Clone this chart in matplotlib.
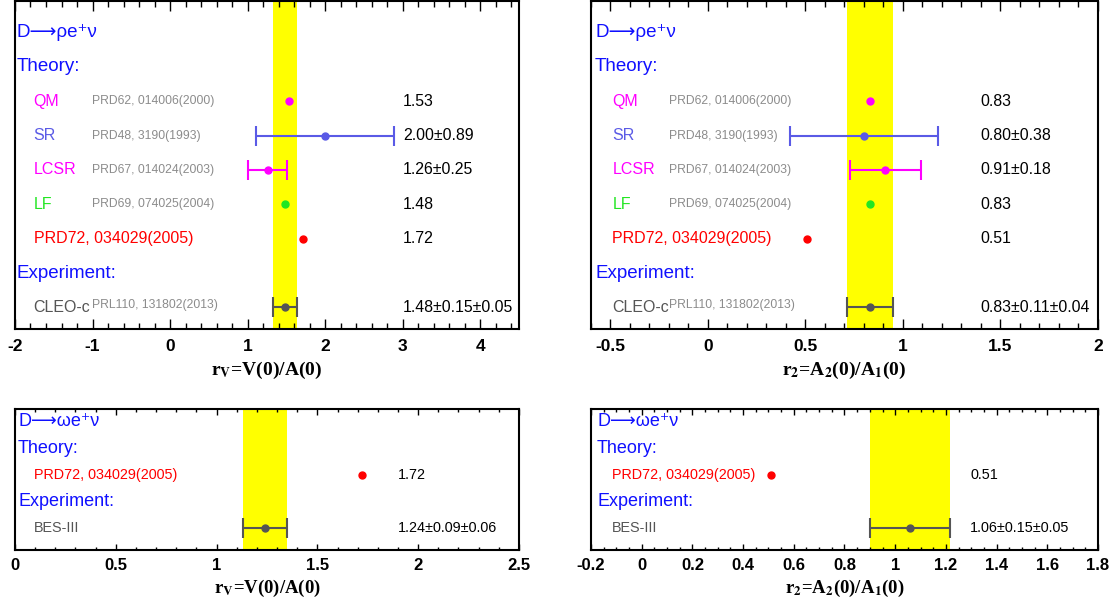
import numpy as np
import matplotlib.pyplot as plt
from matplotlib.ticker import MultipleLocator, FuncFormatter

plt.rcParams['font.family'] = ['Liberation Sans', 'DejaVu Sans']
plt.rcParams['mathtext.fontset'] = 'stix'

# D -> rho e+ nu : theory predictions
rho_models = ["QM", "SR", "LCSR", "LF", "PRD72, 034029(2005)"]
rho_refs = ["PRD62, 014006(2000)", "PRD48, 3190(1993)", "PRD67, 014024(2003)",
            "PRD69, 074025(2004)", ""]
rho_colors = ["#ff00ff", "#5a5ae6", "#ff00ff", "#22e622", "#ff0000"]
rv_rho = [1.53, 2.00, 1.26, 1.48, 1.72]
rv_rho_err = [None, 0.89, 0.25, None, None]
r2_rho = [0.83, 0.80, 0.91, 0.83, 0.51]
r2_rho_err = [None, 0.38, 0.18, None, None]

# D -> rho e+ nu : CLEO-c measurement (value, stat, syst)
cleo_ref = "PRL110, 131802(2013)"
cleo_rv = [1.48, 0.15, 0.05]
cleo_r2 = [0.83, 0.11, 0.04]

# D -> omega e+ nu
omega_models = ["PRD72, 034029(2005)"]
omega_colors = ["#ff0000"]
rv_omega = [1.72]
r2_omega = [0.51]
bes_rv = [1.24, 0.09, 0.06]
bes_r2 = [1.06, 0.15, 0.05]

BLUE = "#1010ff"
GREY = "#555555"
REFGREY = "#8c8c8c"


def fmt_tick(v, pos):
    if abs(v) < 1e-9:
        v = 0.0
    return f"{round(v, 6):g}"


def style_axis(ax, xlim, major, minor, ticklen, fs, pad):
    ax.set_xlim(*xlim)
    ax.xaxis.set_major_locator(MultipleLocator(major))
    ax.xaxis.set_minor_locator(MultipleLocator(minor))
    ax.xaxis.set_major_formatter(FuncFormatter(fmt_tick))
    ax.tick_params(axis='x', which='both', direction='in', top=True, bottom=True,
                   labelsize=fs, pad=pad, width=1.0)
    ax.tick_params(axis='x', which='major', length=ticklen[0])
    ax.tick_params(axis='x', which='minor', length=ticklen[1])
    for lab in ax.get_xticklabels():
        lab.set_fontweight('bold')
    ax.set_yticks([])
    for s in ax.spines.values():
        s.set_linewidth(1.5)


def point(ax, x, y, err, color, cap):
    if err is None:
        ax.plot(x, y, 'o', color=color, ms=5, zorder=3)
    else:
        ax.errorbar(x, y, xerr=err, fmt='o', color=color, ms=5, capsize=cap,
                    elinewidth=1.5, capthick=1.5, zorder=3)


def rho_panel(ax, vals, errs, meas, xlim, major, minor, xpos, label):
    tr = ax.get_yaxis_transform()
    x_head, x_mod, x_ref, x_val = xpos
    mean, stat, syst = meas
    tot = np.hypot(stat, syst)
    ax.axvspan(mean - tot, mean + tot, color='#ffff00', lw=0, zorder=0)
    ax.text(x_head, 1, "D⟶ρe⁺ν", transform=tr, color=BLUE, fontsize=13.5, va='center')
    ax.text(x_head, 2, "Theory:", transform=tr, color=BLUE, fontsize=13.5, va='center')
    for i, (m, r, c, v, e) in enumerate(zip(rho_models, rho_refs, rho_colors, vals, errs)):
        y = 3 + i
        ax.text(x_mod, y, m, transform=tr, color=c, fontsize=11.5, va='center')
        if r:
            ax.text(x_ref, y, r, transform=tr, color=REFGREY, fontsize=8.7, va='center')
        point(ax, v, y, e, c, 7)
        txt = f"{v:.2f}" if e is None else f"{v:.2f}±{e:.2f}"
        ax.text(x_val, y, txt, transform=tr, color='black', fontsize=11.4, va='center')
    ax.text(x_head, 8, "Experiment:", transform=tr, color=BLUE, fontsize=13.5, va='center')
    ax.text(x_mod, 9, "CLEO-c", transform=tr, color=GREY, fontsize=11.5, va='center')
    ax.text(x_ref, 8.93, cleo_ref, transform=tr, color=REFGREY, fontsize=8.7, va='center')
    point(ax, mean, 9, tot, GREY, 7)
    ax.text(x_val, 9, f"{mean:.2f}±{stat:.2f}±{syst:.2f}", transform=tr,
            color='black', fontsize=11.4, va='center')
    ax.set_ylim(9.63, 0.07)
    style_axis(ax, xlim, major, minor, (7, 4), 12.5, 7.5)
    ax.set_xlabel(label, fontsize=14, fontfamily='Liberation Serif', fontweight='bold')
    ax.xaxis.set_label_coords(0.5, -0.095)


def omega_panel(ax, vals, meas, xlim, major, minor, xpos, label):
    tr = ax.get_yaxis_transform()
    x_head, x_mod, x_val = xpos
    mean, stat, syst = meas
    tot = np.hypot(stat, syst)
    ax.axvspan(mean - tot, mean + tot, color='#ffff00', lw=0, zorder=0)
    ax.text(x_head, 1, "D⟶ωe⁺ν", transform=tr, color=BLUE, fontsize=13, va='center')
    ax.text(x_head, 2, "Theory:", transform=tr, color=BLUE, fontsize=13, va='center')
    for i, (m, c, v) in enumerate(zip(omega_models, omega_colors, vals)):
        y = 3 + i
        ax.text(x_mod, y, m, transform=tr, color=c, fontsize=10.4, va='center')
        point(ax, v, y, None, c, 7)
        ax.text(x_val, y, f"{v:.2f}", transform=tr, color='black', fontsize=10.4, va='center')
    ax.text(x_head, 4, "Experiment:", transform=tr, color=BLUE, fontsize=13, va='center')
    ax.text(x_mod, 5, "BES-III", transform=tr, color=GREY, fontsize=10.4, va='center')
    point(ax, mean, 5, tot, GREY, 7)
    ax.text(x_val, 5, f"{mean:.2f}±{stat:.2f}±{syst:.2f}", transform=tr,
            color='black', fontsize=10.4, va='center')
    ax.set_ylim(5.83, 0.51)
    style_axis(ax, xlim, major, minor, (4.5, 2.5), 12, 6)
    ax.set_xlabel(label, fontsize=13.5, fontfamily='Liberation Serif', fontweight='bold')
    ax.xaxis.set_label_coords(0.5, -0.2)


fig = plt.figure(figsize=(11.18, 6.08), dpi=100)
ax_tl = fig.add_axes([0.0134, 0.4589, 0.4508, 0.5400])
ax_tr = fig.add_axes([0.5286, 0.4589, 0.4535, 0.5400])
ax_bl = fig.add_axes([0.0134, 0.0954, 0.4508, 0.2319])
ax_br = fig.add_axes([0.5286, 0.0954, 0.4535, 0.2319])

lab_rv = r'r$_{\mathbf{V}}$=V(0)/A(0)'
lab_r2 = r'r$_{\mathbf{2}}$=A$_{\mathbf{2}}$(0)/A$_{\mathbf{1}}$(0)'

rho_panel(ax_tl, rv_rho, rv_rho_err, cleo_rv, (-2, 4.5), 1, 0.2,
          (0.004, 0.037, 0.152, 0.77), lab_rv)
rho_panel(ax_tr, r2_rho, r2_rho_err, cleo_r2, (-0.6, 2.0), 0.5, 0.1,
          (0.008, 0.042, 0.154, 0.769), lab_r2)
omega_panel(ax_bl, rv_omega, bes_rv, (0, 2.5), 0.5, 0.1,
            (0.006, 0.037, 0.76), lab_rv)
omega_panel(ax_br, r2_omega, bes_r2, (-0.2, 1.8), 0.2, 0.05,
            (0.012, 0.042, 0.748), lab_r2)

fig.savefig("out.png", dpi=100)
